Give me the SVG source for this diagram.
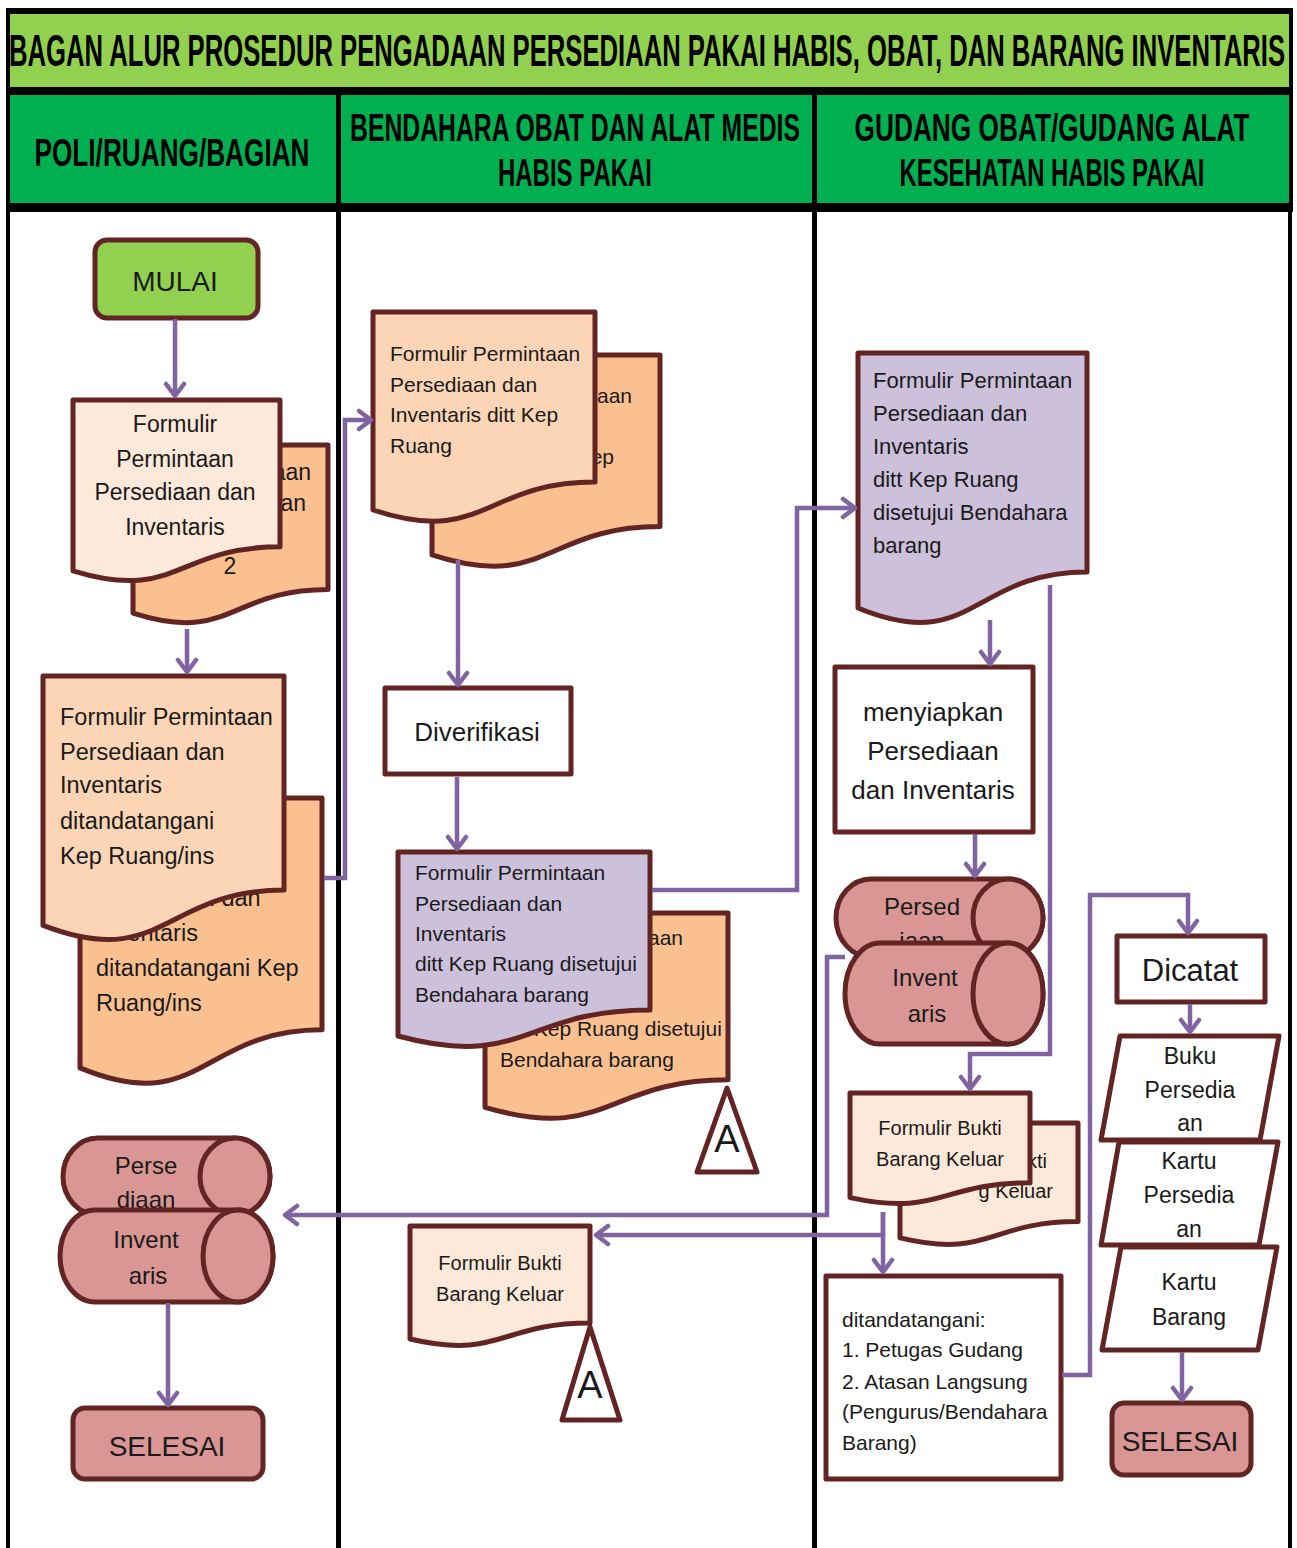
<svg xmlns="http://www.w3.org/2000/svg" width="1297" height="1548" viewBox="0 0 1297 1548">
<style>
.t{font-family:"Liberation Sans",Arial,sans-serif;fill:#1a1a1a}
.h{font-family:"Liberation Sans",Arial,sans-serif;font-weight:bold;fill:#000}
.nd{stroke:#632523;stroke-width:5;stroke-linejoin:round}
.lt{fill:#FDE9D9}.pc{fill:#FBD5B5}.or{fill:#FAC090}.lv{fill:#CCC0DA}.cy{fill:#D99694}.wh{fill:#fff}.gr{fill:#92D050}
.c{fill:none;stroke:#8064A2;stroke-width:4.5;marker-end:url(#ar)}
.m{text-anchor:middle}
.e{text-anchor:end}
</style>
<defs>
<marker id="ar" markerUnits="userSpaceOnUse" markerWidth="26" markerHeight="26" refX="15" refY="12" orient="auto">
<path d="M3,3 L15,12 L3,21" fill="none" stroke="#8064A2" stroke-width="4.5" stroke-linecap="round" stroke-linejoin="round"/>
</marker>
</defs>
<rect width="1297" height="1548" fill="#fff"/>
<g id="header">
<rect x="6" y="8" width="1287" height="204" fill="#000"/>
<rect x="10" y="14" width="1279" height="73" fill="#92D050"/>
<rect x="10" y="95" width="326" height="108" fill="#00B050"/>
<rect x="341" y="95" width="471" height="108" fill="#00B050"/>
<rect x="817" y="95" width="472" height="108" fill="#00B050"/>
<text class="h" transform="translate(9,66) scale(1,1.85)" x="0" y="0" font-size="24" textLength="1276" lengthAdjust="spacingAndGlyphs">BAGAN ALUR PROSEDUR PENGADAAN PERSEDIAAN PAKAI HABIS, OBAT, DAN BARANG INVENTARIS</text>
<text class="h m" transform="translate(172,166) scale(1,1.55)" x="0" y="0" font-size="25" textLength="275" lengthAdjust="spacingAndGlyphs">POLI/RUANG/BAGIAN</text>
<text class="h m" transform="translate(575,141) scale(1,1.55)" x="0" y="0" font-size="25" textLength="450" lengthAdjust="spacingAndGlyphs">BENDAHARA OBAT DAN ALAT MEDIS</text>
<text class="h m" transform="translate(575,186) scale(1,1.55)" x="0" y="0" font-size="25" textLength="154" lengthAdjust="spacingAndGlyphs">HABIS PAKAI</text>
<text class="h m" transform="translate(1052,141) scale(1,1.55)" x="0" y="0" font-size="25" textLength="395" lengthAdjust="spacingAndGlyphs">GUDANG OBAT/GUDANG ALAT</text>
<text class="h m" transform="translate(1052,186) scale(1,1.55)" x="0" y="0" font-size="25" textLength="305" lengthAdjust="spacingAndGlyphs">KESEHATAN HABIS PAKAI</text>
</g>
<g id="lanes" fill="#000">
<rect x="6" y="210" width="4" height="1338"/>
<rect x="336" y="210" width="5" height="1338"/>
<rect x="812" y="210" width="5" height="1338"/>
<rect x="1288" y="210" width="4" height="1338"/>
</g>

<g id="mulai">
<rect class="nd gr" x="95" y="240" width="163" height="78" rx="12"/>
<text class="t m" x="175" y="291" font-size="28">MULAI</text>
</g>

<g id="doc1">
<path class="nd or" d="M133,445 H328 V589.4 C230.5,589.4 230.5,644.3 133,613.1 Z"/>
<g class="t" font-size="23">
<text x="311" y="480" class="e">aan</text>
<text x="306" y="511" class="e">an</text>
<text x="230" y="574" class="m">2</text>
</g>
<path class="nd lt" d="M73,400 H280 V546.8 C176.5,546.8 176.5,602.6 73,570.9 Z"/>
<g class="t m" font-size="23">
<text x="175" y="432">Formulir</text>
<text x="175" y="467">Permintaan</text>
<text x="175" y="500">Persediaan dan</text>
<text x="175" y="535">Inventaris</text>
</g>
</g>

<g id="doc2">
<path class="nd or" d="M80,798 H322 V1029.8 C201,1029.8 201,1117.9 80,1067.9 Z"/>
<g class="t" font-size="23.5">
<text x="96" y="906">Persediaan dan</text>
<text x="96" y="941">Inventaris</text>
<text x="96" y="976">ditandatangani Kep</text>
<text x="96" y="1011">Ruang/ins</text>
</g>
<path class="nd pc" d="M43,676 H284 V890.1 C163.5,890.1 163.5,971.6 43,925.4 Z"/>
<g class="t" font-size="23.5">
<text x="60" y="725">Formulir Permintaan</text>
<text x="60" y="760">Persediaan dan</text>
<text x="60" y="793">Inventaris</text>
<text x="60" y="829">ditandatangani</text>
<text x="60" y="864">Kep Ruang/ins</text>
</g>
</g>

<g id="doc3">
<path class="nd or" d="M432,355 H660 V526.6 C546,526.6 546,591.9 432,554.9 Z"/>
<g class="t" font-size="21">
<text x="632" y="403" class="e">aan</text>
<text x="614" y="464" class="e">ep</text>
</g>
<path class="nd pc" d="M373,312 H595 V482 C484,482 484,546.7 373,510 Z"/>
<g class="t" font-size="21">
<text x="390" y="361">Formulir Permintaan</text>
<text x="390" y="392">Persediaan dan</text>
<text x="390" y="422">Inventaris ditt Kep</text>
<text x="390" y="453">Ruang</text>
</g>
</g>

<g id="diverifikasi">
<rect class="nd wh" x="385" y="688" width="186" height="86"/>
<text class="t m" x="477" y="741" font-size="26">Diverifikasi</text>
</g>

<g id="doc4">
<path class="nd or" d="M485,913 H728 V1079.8 C606.5,1079.8 606.5,1143.3 485,1107.3 Z"/>
<g class="t" font-size="21">
<text x="683" y="945" class="e">aan</text>
<text x="500" y="1036">ditt Kep Ruang disetujui</text>
<text x="500" y="1067">Bendahara barang</text>
</g>
<path class="nd lv" d="M398,852 H650 V1010 C524,1010 524,1070.1 398,1036 Z"/>
<g class="t" font-size="21">
<text x="415" y="880">Formulir Permintaan</text>
<text x="415" y="911">Persediaan dan</text>
<text x="415" y="941">Inventaris</text>
<text x="415" y="971">ditt Kep Ruang disetujui</text>
<text x="415" y="1002">Bendahara barang</text>
</g>
</g>

<g id="conA1">
<path class="nd wh" d="M727,1088 L757,1172 L697,1172 Z"/>
<text class="t m" x="727" y="1152" font-size="38">A</text>
</g>

<g id="doc5">
<path class="nd lv" d="M858,353 H1087 V571.9 C972.5,571.9 972.5,655.2 858,608 Z"/>
<g class="t" font-size="22">
<text x="873" y="388">Formulir Permintaan</text>
<text x="873" y="421">Persediaan dan</text>
<text x="873" y="454">Inventaris</text>
<text x="873" y="487">ditt Kep Ruang</text>
<text x="873" y="520">disetujui Bendahara</text>
<text x="873" y="553">barang</text>
</g>
</g>

<g id="menyiapkan">
<rect class="nd wh" x="835" y="667" width="198" height="165"/>
<g class="t m" font-size="26">
<text x="933" y="721">menyiapkan</text>
<text x="933" y="760">Persediaan</text>
<text x="933" y="799">dan Inventaris</text>
</g>
</g>

<g id="cylR">
<path class="nd cy" d="M871,879 H1008 A35,39 0 0 1 1008,957 H871 A35,39 0 0 1 871,879 Z"/>
<ellipse class="nd cy" cx="1008" cy="918" rx="35" ry="39"/>
<text class="t m" x="922" y="915" font-size="24">Persed</text>
<text class="t m" x="922" y="949" font-size="24">iaan</text>
<path class="nd cy" d="M880,943 H1008 A35,50.5 0 0 1 1008,1044 H880 A35,50.5 0 0 1 880,943 Z"/>
<ellipse class="nd cy" cx="1008" cy="993.5" rx="35" ry="50.5"/>
<text class="t m" x="925" y="986" font-size="24">Invent</text>
<text class="t m" x="927" y="1022" font-size="24">aris</text>
</g>

<g id="doc6">
<path class="nd lt" d="M900,1123 H1078 V1221.6 C989,1221.6 989,1259.2 900,1237.9 Z"/>
<g class="t" font-size="20">
<text x="1047" y="1168" class="e">kti</text>
<text x="1053" y="1198" class="e">g Keluar</text>
</g>
<path class="nd lt" d="M850,1093 H1030 V1182.8 C940,1182.8 940,1217 850,1197.6 Z"/>
<g class="t m" font-size="20">
<text x="940" y="1135">Formulir Bukti</text>
<text x="940" y="1166">Barang Keluar</text>
</g>
</g>

<g id="ditandatangani">
<rect class="nd wh" x="826" y="1276" width="235" height="203"/>
<g class="t" font-size="21">
<text x="842" y="1327">ditandatangani:</text>
<text x="842" y="1357">1. Petugas Gudang</text>
<text x="842" y="1389">2. Atasan Langsung</text>
<text x="842" y="1419">(Pengurus/Bendahara</text>
<text x="842" y="1450">Barang)</text>
</g>
</g>

<g id="dicatat">
<rect class="nd wh" x="1117" y="936" width="148" height="66"/>
<text class="t m" x="1190" y="981" font-size="31">Dicatat</text>
</g>

<g id="buku">
<path class="nd wh" d="M1120,1036 L1279,1036 L1260,1140 L1101,1140 Z"/>
<g class="t m" font-size="23">
<text x="1190" y="1064">Buku</text>
<text x="1190" y="1098">Persedia</text>
<text x="1190" y="1131">an</text>
</g>
</g>
<g id="kartuPersediaan">
<path class="nd wh" d="M1119,1142 L1278,1142 L1259,1245 L1101,1245 Z"/>
<g class="t m" font-size="23">
<text x="1189" y="1169">Kartu</text>
<text x="1189" y="1203">Persedia</text>
<text x="1189" y="1237">an</text>
</g>
</g>
<g id="kartuBarang">
<path class="nd wh" d="M1121,1247 L1277,1247 L1258,1350 L1102,1350 Z"/>
<g class="t m" font-size="23">
<text x="1189" y="1290">Kartu</text>
<text x="1189" y="1325">Barang</text>
</g>
</g>

<g id="selesaiR">
<rect class="nd cy" x="1112" y="1403" width="139" height="72" rx="12"/>
<text class="t m" x="1180" y="1451" font-size="28">SELESAI</text>
</g>

<g id="cylL">
<path class="nd cy" d="M98,1138 H235 A35,38.5 0 0 1 235,1215 H98 A35,38.5 0 0 1 98,1138 Z"/>
<ellipse class="nd cy" cx="235" cy="1176.5" rx="35" ry="38.5"/>
<text class="t m" x="146" y="1174" font-size="24">Perse</text>
<text class="t m" x="146" y="1208" font-size="24">diaan</text>
<path class="nd cy" d="M95,1210 H238 A35,46 0 0 1 238,1302 H95 A35,46 0 0 1 95,1210 Z"/>
<ellipse class="nd cy" cx="238" cy="1256" rx="35" ry="46"/>
<text class="t m" x="146" y="1248" font-size="24">Invent</text>
<text class="t m" x="148" y="1284" font-size="24">aris</text>
</g>

<g id="selesaiL">
<rect class="nd cy" x="73" y="1408" width="190" height="71" rx="12"/>
<text class="t m" x="167" y="1456" font-size="28">SELESAI</text>
</g>

<g id="doc7">
<path class="nd lt" d="M410,1226 H590 V1323 C500,1323 500,1360 410,1339 Z"/>
<g class="t m" font-size="20">
<text x="500" y="1270">Formulir Bukti</text>
<text x="500" y="1301">Barang Keluar</text>
</g>
</g>

<g id="conA2">
<path class="nd wh" d="M590,1327 L620,1420 L562,1420 Z"/>
<text class="t m" x="590" y="1398" font-size="38">A</text>
</g>

<g id="connectors">
<path class="c" d="M175,319 V396"/>
<path class="c" d="M187,629 V672"/>
<path class="c" d="M324,878 H345 V420 H371"/>
<path class="c" d="M458,560 V685"/>
<path class="c" d="M457,777 V849"/>
<path class="c" d="M652,890 H797 V508 H855"/>
<path class="c" d="M990,620 V664"/>
<path class="c" d="M1050,585 V1054 H970 V1089"/>
<path class="c" d="M975,834 V876"/>
<path class="c" d="M845,957 H827 V1215 H285"/>
<path class="c" d="M883,1212 V1235 H596"/>
<path class="c" d="M883,1212 V1272"/>
<path class="c" d="M1062,1375 H1090 V895 H1188 V933"/>
<path class="c" d="M1190,1004 V1032"/>
<path class="c" d="M1182,1352 V1400"/>
<path class="c" d="M168,1303 V1405"/>
</g>
</svg>
